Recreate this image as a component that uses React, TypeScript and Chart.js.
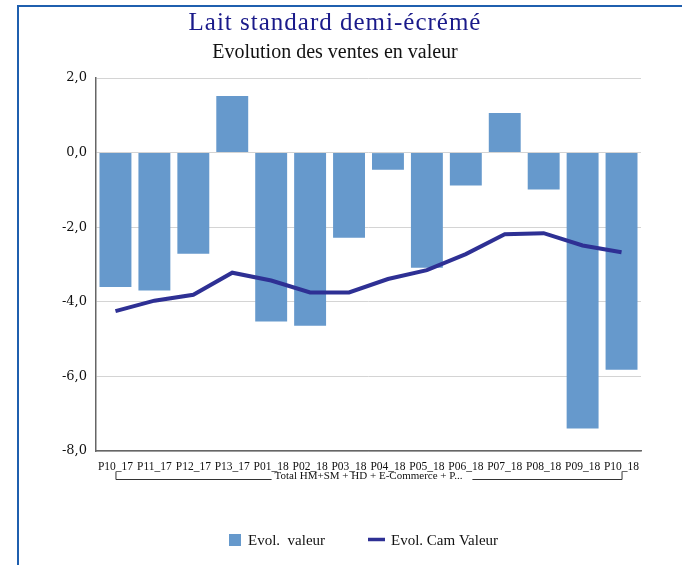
import React, { useEffect, useRef } from "react";
import { Chart, registerables } from "chart.js";

Chart.register(...registerables);

const categories = ["P10_17", "P11_17", "P12_17", "P13_17", "P01_18", "P02_18", "P03_18", "P04_18", "P05_18", "P06_18", "P07_18", "P08_18", "P09_18", "P10_18"];
const evolValeur = [-3.6, -3.7, -2.71, 1.52, -4.53, -4.64, -2.28, -0.46, -3.09, -0.88, 1.06, -0.99, -7.4, -5.82];
const evolCamValeur = [-4.25, -3.97, -3.81, -3.22, -3.43, -3.75, -3.75, -3.39, -3.15, -2.72, -2.19, -2.16, -2.49, -2.67];
const yTicks = [2, 0, -2, -4, -6, -8];
const titleText = "Lait standard demi-écrémé";
const subtitleText = "Evolution des ventes en valeur";
const groupLabel = "Total HM+SM + HD + E-Commerce + P...";
const legendLabels = ["Evol.  valeur", "Evol. Cam Valeur"];

const BAR_COLOR = "#6699cc";
const LINE_COLOR = "#2e3094";

const decorPlugin = {
  id: "decor",
  afterDraw(chart: any) {
    const ctx = chart.ctx;
    const xs = chart.scales.x;
    ctx.save();
    // titles
    ctx.textAlign = "center";
    ctx.textBaseline = "alphabetic";
    ctx.fillStyle = "#1a1a8a";
    ctx.font = "25px 'Liberation Serif'";
    (ctx as any).letterSpacing = "1px";
    ctx.fillText(titleText, 335, 30);
    (ctx as any).letterSpacing = "0px";
    ctx.fillStyle = "#111";
    ctx.font = "20px 'Liberation Serif'";
    ctx.fillText(subtitleText, 335, 58);

    // group bracket
    const x0 = xs.getPixelForValue(0);
    const x1 = xs.getPixelForValue(categories.length - 1);
    const yLine = 479;
    ctx.font = "11px 'Liberation Serif'";
    const tw = ctx.measureText(groupLabel).width;
    const mid = (x0 + x1) / 2;
    ctx.strokeStyle = "#333";
    ctx.lineWidth = 1;
    ctx.beginPath();
    ctx.moveTo(x0 + 0.5, 472);
    ctx.lineTo(x0 + 0.5, yLine + 0.5);
    ctx.lineTo(mid - tw / 2 - 3, yLine + 0.5);
    ctx.moveTo(mid + tw / 2 + 10, yLine + 0.5);
    ctx.lineTo(x1 + 0.5, yLine + 0.5);
    ctx.lineTo(x1 + 0.5, 472);
    ctx.stroke();
    ctx.fillStyle = "#111";
    ctx.fillText(groupLabel, mid, 479);

    // legend
    ctx.font = "15px 'Liberation Serif'";
    ctx.textAlign = "left";
    ctx.fillStyle = BAR_COLOR;
    ctx.fillRect(229, 534, 12, 12);
    ctx.fillStyle = "#111";
    ctx.fillText(legendLabels[0], 248, 545);
    ctx.strokeStyle = LINE_COLOR;
    ctx.lineWidth = 3.5;
    ctx.beginPath();
    ctx.moveTo(368, 539.5);
    ctx.lineTo(385, 539.5);
    ctx.stroke();
    ctx.fillText(legendLabels[1], 391, 545);
    ctx.restore();
  },
};

export default function App() {
  const ref = useRef<HTMLCanvasElement>(null);
  useEffect(() => {
    if (!ref.current) return;
    const chart = new Chart(ref.current, {
      type: "bar",
      data: {
        labels: categories,
        datasets: [
          {
            type: "line",
            label: legendLabels[1],
            data: evolCamValeur,
            borderColor: LINE_COLOR,
            backgroundColor: LINE_COLOR,
            borderWidth: 4,
            pointRadius: 0,
            tension: 0,
            order: 0,
          } as any,
          {
            type: "bar",
            label: legendLabels[0],
            data: evolValeur,
            backgroundColor: BAR_COLOR,
            categoryPercentage: 1,
            barPercentage: 0.82,
            order: 1,
          },
        ],
      },
      options: {
        animation: false,
        responsive: false,
        layout: { padding: { left: 0, right: 41, top: 78, bottom: 74 } },
        plugins: {
          legend: { display: false },
          title: { display: false },
          tooltip: { enabled: false },
        },
        scales: {
          x: {
            grid: { display: false },
            border: { display: true, color: "#666", width: 1.5 },
            ticks: {
              autoSkip: false,
              maxRotation: 0,
              minRotation: 0,
              padding: 1,
              color: "#111",
              font: { family: "'Liberation Serif'", size: 11.5 },
            },
            afterFit(scale: any) {
              scale.height = 40;
            },
          },
          y: {
            min: -8,
            max: 2,
            afterBuildTicks(scale: any) {
              scale.ticks = yTicks.map((v) => ({ value: v }));
            },
            grid: { color: "#d4d4d4", lineWidth: 1, drawTicks: false },
            border: { display: true, color: "#666", width: 1.5 },
            ticks: {
              padding: 9,
              color: "#111",
              font: { family: "'DejaVu Serif'", size: 13 },
              callback: (v: any) => Number(v).toFixed(1).replace(".", ","),
            },
            afterFit(scale: any) {
              scale.width = 96;
            },
          },
        },
      },
      plugins: [decorPlugin],
    });
    return () => chart.destroy();
  }, []);
  return (
    <div style={{ position: "fixed", left: 0, top: 0, width: 682, height: 565, overflow: "hidden", background: "#fff" }}>
      <div style={{ position: "absolute", left: 17, top: 5, width: 700, height: 600, borderLeft: "2px solid #1f5fae", borderTop: "2px solid #1f5fae" }} />
      <canvas ref={ref} width={682} height={565} style={{ position: "absolute", left: 0, top: 0, width: 682, height: 565 }} />
    </div>
  );
}
